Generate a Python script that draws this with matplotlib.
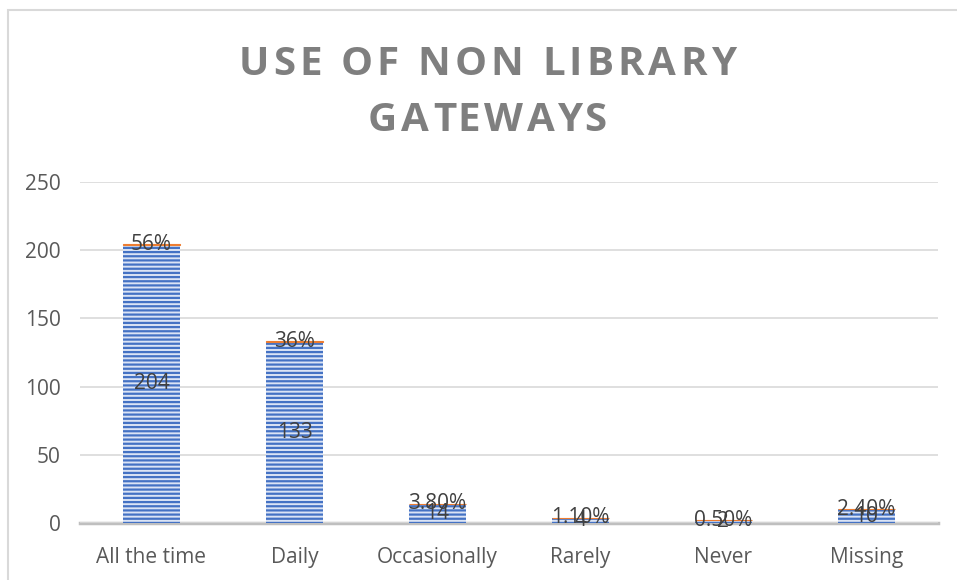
import matplotlib.pyplot as plt
from matplotlib.patches import Rectangle

categories = ['All the time', 'Daily', 'Occasionally', 'Rarely', 'Never', 'Missing']
counts = [204, 133, 14, 4, 2, 10]
shares = [0.56, 0.36, 0.038, 0.011, 0.005, 0.024]
share_labels = ['56%', '36%', '3.80%', '1.10%', '0.50%', '2.40%']
yticks = [0, 50, 100, 150, 200, 250]
title_lines = ['USE OF NON LIBRARY', 'GATEWAYS']

plt.rcParams['font.family'] = ['Open Sans', 'DejaVu Sans']
plt.rcParams['hatch.linewidth'] = 1.6

fig = plt.figure(figsize=(9.57, 5.8), dpi=100)
fig.patches.append(Rectangle((0.0085, -0.1), 1.2, 1.083, transform=fig.transFigure,
                             fill=False, edgecolor='#d9d9d9', linewidth=1.5))
ax = fig.add_axes([0.0836, 0.0983, 0.8964, 0.5879])

x = range(len(categories))
blue = ax.bar(x, counts, width=0.4, color='#dbe4f5', edgecolor='#4472C4',
              hatch='----', linewidth=0, zorder=2)
orange = ax.bar(x, shares, width=0.4, bottom=counts, color='#ED7D31',
                edgecolor='#ED7D31', linewidth=0.8, zorder=2)

for i in x:
    ax.text(i, counts[i] / 2, str(counts[i]), ha='center', va='center',
            fontsize=15, color='#404040', zorder=3)
    ax.text(i, counts[i] + shares[i] / 2, share_labels[i], ha='center', va='center',
            fontsize=15, color='#404040', zorder=3)

ax.set_xlim(-0.5, len(categories) - 0.5)
ax.set_ylim(0, 250)
ax.set_yticks(yticks)
ax.set_xticks(list(x))
ax.set_xticklabels(categories)
ax.tick_params(length=0, labelsize=15, labelcolor='#595959')
ax.tick_params(axis='y', pad=14)
ax.tick_params(axis='x', pad=17)
ax.grid(axis='y', color='#d9d9d9', linewidth=1.2, zorder=0)
for s in ['top', 'right', 'left']:
    ax.spines[s].set_visible(False)
ax.spines['bottom'].set_color('#bfbfbf')
ax.spines['bottom'].set_linewidth(2.5)
ax.spines['bottom'].set_zorder(1)


# title with extra letter spacing, placed one character at a time
def spaced_line(text, yc, size, gap):
    renderer = fig.canvas.get_renderer()
    W = fig.bbox.width
    style = dict(fontsize=size, fontweight='bold', color='#7f7f7f', va='center')
    offs = []
    for k in range(len(text) + 1):
        t = fig.text(0, 0, text[:k] + '|', **style)
        bar = fig.text(0, 0, '|', **style)
        offs.append(t.get_window_extent(renderer).width - bar.get_window_extent(renderer).width)
        t.remove()
        bar.remove()
    total = offs[-1] + gap * (len(text) - 1)
    x0 = 0.509 * W - total / 2
    for k, ch in enumerate(text):
        if ch != ' ':
            fig.text((x0 + offs[k] + gap * k) / W, yc, ch, ha='left', **style)


spaced_line(title_lines[0], 0.889, 29, 4.1)
spaced_line(title_lines[1], 0.793, 29, 4.1)

fig.savefig('out.png', dpi=100)
